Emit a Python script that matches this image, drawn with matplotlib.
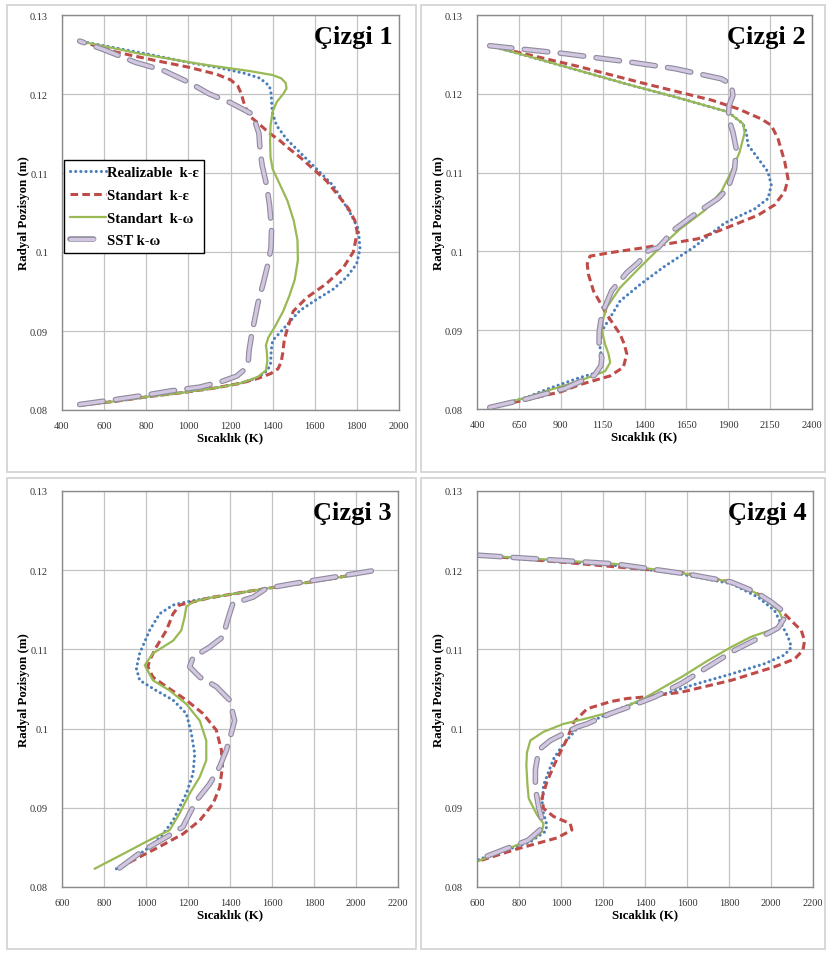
import matplotlib
matplotlib.use('Agg')
import matplotlib.pyplot as plt
from matplotlib import patheffects as pe
from matplotlib.patches import Rectangle
from matplotlib.ticker import FuncFormatter

plt.rcParams['font.family'] = ['Liberation Serif', 'DejaVu Serif']
plt.rcParams['lines.scale_dashes'] = False

# ---------------- data ----------------
series_names = ['Realizable  k-ε', 'Standart  k-ε', 'Standart  k-ω', 'SST k-ω']
panel_titles = ['Çizgi 1', 'Çizgi 2', 'Çizgi 3', 'Çizgi 4']
x_label = 'Sıcaklık (K)'
y_label = 'Radyal Pozisyon (m)'
y_ticks = [0.08, 0.09, 0.10, 0.11, 0.12, 0.13]
x_ticks_1 = [400, 600, 800, 1000, 1200, 1400, 1600, 1800, 2000]
x_ticks_2 = [400, 650, 900, 1150, 1400, 1650, 1900, 2150, 2400]
x_ticks_3 = [600, 800, 1000, 1200, 1400, 1600, 1800, 2000, 2200]
x_ticks_4 = [600, 800, 1000, 1200, 1400, 1600, 1800, 2000, 2200]

# Panel 1
p1_real_T = [484, 654, 812, 971, 1130, 1250, 1330, 1375, 1390, 1393, 1400, 1435, 1482, 1530, 1609, 1688, 1751, 1799, 1815, 1807, 1767, 1688, 1609, 1530, 1466, 1419, 1398, 1393, 1385, 1340, 1270, 1150, 1000, 817, 640, 484]
p1_real_y = [0.0806, 0.0811, 0.0817, 0.0822, 0.0828, 0.0834, 0.0841, 0.0850, 0.0858, 0.0875, 0.0888, 0.0898, 0.0912, 0.0926, 0.0940, 0.0953, 0.0968, 0.0985, 0.1004, 0.1029, 0.1050, 0.1084, 0.1105, 0.1126, 0.1143, 0.1160, 0.1177, 0.1200, 0.1210, 0.1220, 0.1226, 0.1233, 0.1240, 0.1250, 0.1259, 0.1267]
p1_std_T = [484, 654, 812, 971, 1130, 1250, 1330, 1390, 1425, 1440, 1448, 1455, 1470, 1498, 1561, 1656, 1735, 1783, 1802, 1790, 1760, 1710, 1656, 1593, 1530, 1482, 1430, 1387, 1323, 1290, 1276, 1262, 1252, 1235, 1200, 1134, 1000, 850, 658, 484]
p1_std_y = [0.0806, 0.0811, 0.0817, 0.0822, 0.0828, 0.0834, 0.0840, 0.0846, 0.0852, 0.0860, 0.0872, 0.0888, 0.0903, 0.0925, 0.0942, 0.0960, 0.0980, 0.1000, 0.1025, 0.1040, 0.1055, 0.1072, 0.1090, 0.1105, 0.1120, 0.1130, 0.1142, 0.1150, 0.1165, 0.1172, 0.1180, 0.1190, 0.1200, 0.1210, 0.1218, 0.1225, 0.1234, 0.1242, 0.1253, 0.1267]
p1_kw_T = [484, 654, 812, 971, 1130, 1250, 1330, 1368, 1375, 1372, 1368, 1380, 1410, 1450, 1480, 1505, 1520, 1518, 1500, 1470, 1430, 1400, 1390, 1388, 1390, 1400, 1420, 1450, 1466, 1462, 1440, 1400, 1292, 1054, 769, 484]
p1_kw_y = [0.0806, 0.0811, 0.0817, 0.0822, 0.0828, 0.0834, 0.0842, 0.0850, 0.0862, 0.0875, 0.0882, 0.0892, 0.0905, 0.0925, 0.0945, 0.0965, 0.0990, 0.1015, 0.1040, 0.1065, 0.1088, 0.1105, 0.1120, 0.1140, 0.1160, 0.1178, 0.1190, 0.1200, 0.1207, 0.1214, 0.1220, 0.1224, 0.1229, 0.1238, 0.1251, 0.1267]
p1_sst_T = [484, 674, 800, 912, 1054, 1157, 1230, 1270, 1284, 1288, 1300, 1315, 1330, 1355, 1378, 1392, 1395, 1385, 1371, 1350, 1340, 1335, 1320, 1300, 1200, 1100, 1000, 880, 750, 600, 484]
p1_sst_y = [0.0807, 0.0814, 0.0819, 0.0824, 0.0829, 0.0836, 0.0843, 0.0852, 0.0860, 0.0875, 0.0895, 0.0915, 0.0935, 0.0960, 0.0985, 0.1005, 0.1030, 0.1060, 0.1085, 0.1110, 0.1130, 0.1150, 0.1162, 0.1175, 0.1189, 0.1200, 0.1215, 0.1230, 0.1240, 0.1256, 0.1267]

# Panel 2
p2_real_T = [476, 700, 816, 1015, 1115, 1145, 1135, 1145, 1195, 1254, 1374, 1513, 1692, 1879, 2058, 2137, 2157, 2137, 2078, 2018, 2008, 1988, 1898, 1600, 1300, 1000, 700, 476]
p2_real_y = [0.0802, 0.0815, 0.0825, 0.0840, 0.0846, 0.0861, 0.0878, 0.0899, 0.0916, 0.0937, 0.0958, 0.0980, 0.1005, 0.1036, 0.1054, 0.1067, 0.1084, 0.1101, 0.1118, 0.1135, 0.1151, 0.1162, 0.1177, 0.1195, 0.1212, 0.1230, 0.1248, 0.1261]
p2_std_T = [476, 700, 903, 1015, 1195, 1274, 1294, 1280, 1254, 1175, 1095, 1065, 1058, 1075, 1214, 1374, 1520, 1719, 1879, 2078, 2177, 2237, 2257, 2237, 2197, 2157, 2098, 1958, 1800, 1400, 1000, 700, 476]
p2_std_y = [0.0802, 0.0812, 0.0822, 0.0831, 0.0842, 0.0853, 0.0870, 0.0882, 0.0895, 0.0920, 0.0950, 0.0971, 0.0984, 0.0994, 0.0999, 0.1004, 0.1009, 0.1016, 0.1029, 0.1046, 0.1059, 0.1076, 0.1092, 0.1114, 0.1143, 0.1160, 0.1168, 0.1181, 0.1192, 0.1213, 0.1235, 0.1250, 0.1261]
p2_kw_T = [476, 700, 816, 1015, 1165, 1195, 1185, 1165, 1145, 1150, 1175, 1254, 1374, 1493, 1610, 1759, 1859, 1918, 1968, 1998, 1988, 1898, 1600, 1300, 1000, 700, 476]
p2_kw_y = [0.0802, 0.0815, 0.0823, 0.0836, 0.0848, 0.0859, 0.0870, 0.0882, 0.0900, 0.0912, 0.0929, 0.0954, 0.0980, 0.1005, 0.1028, 0.1052, 0.1076, 0.1101, 0.1126, 0.1151, 0.1162, 0.1177, 0.1195, 0.1212, 0.1230, 0.1248, 0.1261]
p2_sst_T = [476, 700, 923, 1102, 1140, 1145, 1128, 1130, 1145, 1204, 1294, 1364, 1423, 1483, 1580, 1719, 1839, 1898, 1938, 1948, 1928, 1900, 1905, 1928, 1918, 1860, 1580, 1321, 923, 476]
p2_sst_y = [0.0802, 0.0813, 0.0826, 0.0843, 0.0855, 0.0865, 0.0880, 0.0899, 0.0920, 0.0950, 0.0973, 0.0986, 0.1001, 0.1005, 0.1028, 0.1050, 0.1067, 0.1080, 0.1105, 0.1130, 0.1151, 0.1170, 0.1185, 0.1198, 0.1212, 0.1219, 0.1232, 0.1240, 0.1251, 0.1261]

# Panel 3
p3_real_T = [2073, 1900, 1732, 1550, 1414, 1300, 1192, 1129, 1065, 1017, 970, 954, 970, 1049, 1129, 1192, 1216, 1232, 1224, 1192, 1160, 1129, 1081, 1020, 940, 859]
p3_real_y = [0.1199, 0.1190, 0.1183, 0.1176, 0.1170, 0.1165, 0.1160, 0.1156, 0.1145, 0.1124, 0.1095, 0.1076, 0.1061, 0.1048, 0.1036, 0.1019, 0.0994, 0.0968, 0.0943, 0.0918, 0.0901, 0.0884, 0.0867, 0.0851, 0.0836, 0.0823]
p3_std_T = [2073, 1900, 1732, 1550, 1414, 1300, 1256, 1160, 1129, 1097, 1049, 1017, 1009, 1033, 1097, 1192, 1271, 1335, 1359, 1364, 1351, 1319, 1256, 1176, 1065, 970, 900, 859]
p3_std_y = [0.1199, 0.1190, 0.1183, 0.1176, 0.1170, 0.1165, 0.1162, 0.1156, 0.1145, 0.1124, 0.1103, 0.1086, 0.1078, 0.1065, 0.1053, 0.1036, 0.1019, 0.0998, 0.0973, 0.0952, 0.0926, 0.0905, 0.0884, 0.0867, 0.0851, 0.0838, 0.0828, 0.0821]
p3_kw_T = [2073, 1900, 1732, 1550, 1414, 1300, 1224, 1192, 1184, 1168, 1129, 1081, 1033, 994, 1033, 1113, 1192, 1256, 1287, 1287, 1256, 1208, 1160, 1113, 1000, 900, 755]
p3_kw_y = [0.1199, 0.1190, 0.1183, 0.1176, 0.1170, 0.1165, 0.1160, 0.1154, 0.1141, 0.1124, 0.1111, 0.1103, 0.1095, 0.1080, 0.1061, 0.1048, 0.1031, 0.1010, 0.0985, 0.0960, 0.0939, 0.0918, 0.0893, 0.0872, 0.0857, 0.0843, 0.0823]
p3_sst_T = [2073, 1890, 1700, 1573, 1510, 1414, 1398, 1383, 1367, 1303, 1224, 1208, 1256, 1335, 1398, 1422, 1406, 1383, 1351, 1303, 1240, 1208, 1176, 1097, 986, 859]
p3_sst_y = [0.1199, 0.1191, 0.1183, 0.1177, 0.1166, 0.1158, 0.1145, 0.1132, 0.1116, 0.1103, 0.1090, 0.1078, 0.1065, 0.1053, 0.1036, 0.1010, 0.0994, 0.0973, 0.0952, 0.0930, 0.0909, 0.0893, 0.0876, 0.0863, 0.0846, 0.0821]

# Panel 4
p4_real_T = [600, 900, 1256, 1573, 1811, 1938, 2017, 2049, 2081, 2097, 2065, 1970, 1811, 1652, 1494, 1335, 1192, 1076, 1010, 965, 917, 909, 933, 925, 854, 700, 600]
p4_real_y = [0.1219, 0.1213, 0.1206, 0.1195, 0.1183, 0.1166, 0.1149, 0.1132, 0.1116, 0.1103, 0.1093, 0.1082, 0.1069, 0.1057, 0.1044, 0.1031, 0.1015, 0.1000, 0.0980, 0.0962, 0.0929, 0.0900, 0.0878, 0.0870, 0.0857, 0.0843, 0.0834]
p4_std_T = [600, 1097, 1573, 1811, 1970, 2049, 2113, 2144, 2160, 2152, 2113, 2017, 1811, 1573, 1400, 1314, 1235, 1124, 1060, 1029, 981, 933, 909, 917, 965, 1044, 1052, 981, 790, 600]
p4_std_y = [0.1219, 0.1208, 0.1197, 0.1185, 0.1166, 0.1149, 0.1132, 0.1124, 0.1111, 0.1099, 0.1088, 0.1078, 0.1061, 0.1046, 0.1040, 0.1038, 0.1034, 0.1025, 0.1008, 0.0987, 0.0962, 0.0933, 0.0912, 0.0899, 0.0889, 0.0880, 0.0872, 0.0862, 0.0848, 0.0832]
p4_kw_T = [600, 1256, 1605, 1811, 1922, 1986, 2040, 2055, 2040, 1906, 1811, 1700, 1573, 1394, 1267, 1124, 1013, 917, 854, 838, 835, 840, 846, 886, 917, 909, 870, 790, 700, 600]
p4_kw_y = [0.1219, 0.1208, 0.1195, 0.1185, 0.1172, 0.1160, 0.1148, 0.1138, 0.1128, 0.1116, 0.1103, 0.1086, 0.1065, 0.1038, 0.1023, 0.1013, 0.1006, 0.0996, 0.0985, 0.0970, 0.0954, 0.0930, 0.0912, 0.0891, 0.0880, 0.0870, 0.0861, 0.0853, 0.0843, 0.0832]
p4_sst_T = [600, 1256, 1605, 1811, 1930, 2000, 2049, 2070, 2033, 1954, 1827, 1700, 1573, 1446, 1319, 1235, 1124, 1076, 949, 894, 878, 878, 894, 910, 900, 843, 716, 600]
p4_sst_y = [0.1219, 0.1208, 0.1195, 0.1185, 0.1172, 0.1160, 0.1150, 0.1142, 0.1127, 0.1116, 0.1099, 0.1078, 0.1057, 0.1040, 0.1027, 0.1019, 0.1006, 0.1002, 0.0985, 0.0973, 0.0948, 0.0925, 0.0900, 0.0885, 0.0872, 0.0859, 0.0846, 0.0834]

panels = [
    (x_ticks_1, [(p1_real_T, p1_real_y), (p1_std_T, p1_std_y), (p1_kw_T, p1_kw_y), (p1_sst_T, p1_sst_y)]),
    (x_ticks_2, [(p2_real_T, p2_real_y), (p2_std_T, p2_std_y), (p2_kw_T, p2_kw_y), (p2_sst_T, p2_sst_y)]),
    (x_ticks_3, [(p3_real_T, p3_real_y), (p3_std_T, p3_std_y), (p3_kw_T, p3_kw_y), (p3_sst_T, p3_sst_y)]),
    (x_ticks_4, [(p4_real_T, p4_real_y), (p4_std_T, p4_std_y), (p4_kw_T, p4_kw_y), (p4_sst_T, p4_sst_y)]),
]

# ---------------- layout ----------------
W, H = 827, 954
fig = plt.figure(figsize=(W / 100, H / 100), dpi=100)
fig.patch.set_facecolor('white')

axes_px = [(62, 399, 16, 411), (477, 812, 16, 410), (62, 398, 492, 888), (477, 813, 492, 888)]
frames_px = [(7, 416, 6, 473), (421, 825, 6, 473), (7, 416, 479, 950), (421, 825, 479, 950)]

for (x0, x1, y0, y1) in frames_px:
    fig.patches.append(Rectangle((x0 / W, 1 - y1 / H), (x1 - x0) / W, (y1 - y0) / H,
                                 transform=fig.transFigure, fill=False,
                                 edgecolor='#d4d4d4', linewidth=1.3))

styles = [
    dict(color='#4a7ebb', lw=2.2, dashes=(0.1, 3.6), dash_capstyle='round'),
    dict(color='#be4b48', lw=2.2, dashes=(5.5, 3.0), dash_capstyle='butt'),
    dict(color='#98b954', lw=1.6, linestyle='-'),
    dict(color='#d2c6e0', lw=2.4, dashes=(17, 9), dash_capstyle='round',
         path_effects=[pe.Stroke(linewidth=4.0, foreground='#8d8a9c'), pe.Normal()]),
]

yfmt = FuncFormatter(lambda v, p: f'{v:g}')

for i, ((l, r, t, b), (xt, data)) in enumerate(zip(axes_px, panels)):
    ax = fig.add_axes([l / W, 1 - b / H, (r - l) / W, (b - t) / H])
    for (T, y), st, name in zip(data, styles, series_names):
        ax.plot(T, y, label=name, solid_capstyle='round', **st)
    ax.set_xlim(xt[0], xt[-1])
    ax.set_ylim(0.08, 0.13)
    ax.set_xticks(xt)
    ax.set_yticks(y_ticks)
    ax.yaxis.set_major_formatter(yfmt)
    ax.grid(True, color='#c3c3c3', linewidth=0.9)
    ax.set_axisbelow(True)
    for s in ax.spines.values():
        s.set_color('#8a8a8a')
        s.set_linewidth(1.0)
    ax.tick_params(length=0, labelsize=7.5, labelcolor='#333333')
    ax.tick_params(axis='y', pad=10)
    ax.tick_params(axis='x', pad=8)
    ax.set_xlabel(x_label, fontsize=9.3, fontweight='bold', labelpad=1)
    ax.set_ylabel(y_label, fontsize=9.3, fontweight='bold', labelpad=0)
    ax.text(0.98, 0.975, panel_titles[i], transform=ax.transAxes, ha='right', va='top',
            fontsize=19, fontweight='bold')
    if i == 0:
        leg = ax.legend(loc='upper left', bbox_to_anchor=(0.005, 0.632), borderaxespad=0,
                        fancybox=False, framealpha=1, edgecolor='black',
                        prop={'weight': 'bold', 'size': 10.5},
                        handlelength=2.5, handletextpad=0.05, labelspacing=0.65,
                        borderpad=0.4)
        leg.get_frame().set_linewidth(1.0)

fig.savefig('out.png', dpi=100)
